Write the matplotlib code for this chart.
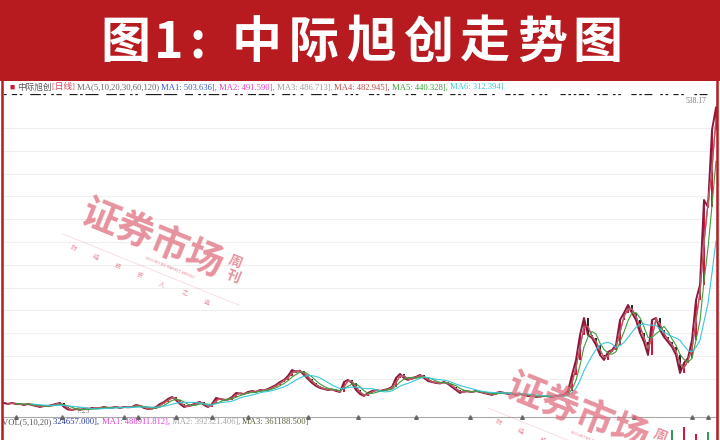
import numpy as np
import matplotlib
matplotlib.use('Agg')
import matplotlib.pyplot as plt
from matplotlib.patches import Rectangle
from matplotlib.lines import Line2D

W, H = 720, 440
RED = '#b71a1f'
CJK = ['Noto Sans CJK SC', 'DejaVu Sans']
SMALL = ['Liberation Serif', 'Noto Sans CJK SC', 'DejaVu Sans']

# closing price, one sample for roughly every 16 trading days
close = [19.2, 17.5, 19.2, 17.5, 17.5, 15.8, 17.5, 15.8, 14.1, 12.4,
         14.1, 14.1, 15.8, 17.5, 19.2, 12.4, 8.1, 7.3, 9.0, 7.6,
         9.0, 8.6, 10.7, 10.2, 10.7, 12.4, 10.7, 11.3, 12.4, 10.7,
         12.4, 11.8, 12.4, 15.8, 14.1, 10.7, 9.0, 9.6, 12.4, 17.5,
         20.9, 26.0, 29.4, 24.3, 17.5, 12.4, 14.1, 15.8, 19.2, 20.9,
         15.8, 12.4, 17.5, 27.7, 26.0, 24.3, 25.1, 29.4, 36.2, 35.4,
         34.5, 37.9, 39.6, 37.9, 41.3, 40.5, 43.0, 46.4, 49.8, 54.9,
         58.3, 65.1, 75.3, 71.9, 74.1, 66.8, 60.0, 53.2, 48.1, 44.7,
         43.0, 41.3, 42.2, 39.6, 37.9, 54.9, 58.3, 53.2, 41.3, 34.5,
         31.1, 36.2, 39.6, 41.3, 39.6, 41.3, 43.0, 46.4, 61.7, 68.5,
         61.7, 58.3, 61.7, 63.4, 66.8, 61.7, 56.6, 54.9, 53.2, 52.4,
         54.9, 51.5, 46.4, 41.3, 36.2, 39.6, 38.8, 37.9, 39.6, 37.9,
         36.2, 34.5, 32.8, 36.2, 37.9, 36.2, 34.5, 35.2, 32.8, 34.5,
         32.8, 31.1, 31.8, 29.4, 30.2, 31.1, 30.5, 29.4, 31.1, 31.6,
         32.8, 39.6, 66.8, 92.3, 134.8, 163.7, 134.8, 129.7, 117.8, 100.8,
         92.3, 105.9, 109.3, 117.8, 160.3, 172.2, 185.8, 172.2, 160.3, 138.2,
         122.9, 100.8, 160.3, 163.7, 143.3, 131.4, 122.9, 114.4, 100.8, 70.2,
         87.2, 95.7, 126.3, 194.3, 219.8, 364.3, 352.4, 483.3, 521.4]
max_high = 538.17
min_low = 7.25

# moving averages: days and last values shown in the legend
ma_days = [5, 10, 20, 30, 60, 120]
ma_last = ['503.636', '491.590', '486.713', '482.945', '440.328', '312.394']
ma_colors = ['#3a5bc7', '#e03fcf', '#9c9c9c', '#c0504d', '#3c9e3c', '#38c8d8']
days_per_sample = 15

# volume panel (only the tallest recent bars show above the bottom edge)
vol_start = 163
vol_tail = [560e3, 520e3, 480e3, 610e3, 1130e3, 700e3, 820e3, 1180e3,
            760e3, 900e3, 1070e3, 880e3, 940e3, 1100e3, 890e3, 324657]
vol_legend = [('VOL(5,10,20) ', '#555555'), ('324657.000], ', '#2a3a9a'),
              ('MA1: 488911.812], ', '#e040d0'), ('MA2: 392321.406], ', '#a8a8a8'),
              ('MA3: 361188.500]', '#606040')]

# sample index of the time-axis markers
time_ticks = [3, 14.5, 30, 33.5, 43, 52, 61, 76, 88.5, 103, 116.5, 129.5, 157.5, 172, 176]

title = '图1：中际旭创走势图'
stock = '中际旭创'


def fx(x):
    return x / W


def fy(y):
    return 1 - y / H


def price_at(ypx):
    return min_low + (410 - ypx) * 1.70


fig = plt.figure(figsize=(W / 100, H / 100), dpi=100)
fig.patch.set_facecolor('white')

# header band and frame
fig.add_artist(Rectangle((0, fy(81)), 1, 81 / H, transform=fig.transFigure,
                         facecolor=RED, edgecolor='none', zorder=0))
for xb in (1.5, 716.5):
    fig.add_artist(Line2D([fx(xb), fx(xb)], [0, fy(81)], transform=fig.transFigure,
                          color=RED, lw=1.8, zorder=5))
# title, one glyph at a time to get the wide letter spacing of the original
title_x = [125, 169, 198, 257, 314, 371, 428, 485, 542, 597]
for ch, xc in zip(title, title_x):
    fig.text(fx(xc), fy(43), ':' if ch == '：' else ch, fontsize=36, weight='heavy',
             color='white', family=CJK, ha='center', va='center')

# price panel
ax = fig.add_axes([fx(3), fy(417), fx(717) - fx(3), (417 - 82) / H])
ax.set_xlim(-0.25, 178.25)
ax.set_ylim(price_at(417), price_at(82))
for s in ['top', 'left', 'right']:
    ax.spines[s].set_visible(False)
ax.spines['bottom'].set_color('#a8a8a8')
ax.spines['bottom'].set_linewidth(0.8)
ax.set_yticks(np.linspace(price_at(378.7), price_at(128), 12))
ax.set_xticks([])
ax.tick_params(left=False, labelleft=False)
ax.grid(axis='y', color='#efefef', lw=0.8)
ax.set_axisbelow(True)

c = np.array(close)
idx = np.arange(len(c))
opn = np.r_[c[0], c[:-1]]
up = c >= opn
flat = np.abs(c - opn) < 1.2
ax.bar(idx, np.where(flat, 1.2, c - opn), bottom=np.where(flat, c - 0.6, opn), width=0.7,
       color=np.where(up, '#d3173c', '#2a2422'), zorder=3)
ax.plot(idx, c, color='#8a1a3a', lw=1.4, zorder=3)

for d, col in zip(ma_days[1:], ma_colors[1:]):
    w = max(2, int(round(d / days_per_sample)))
    m = np.convolve(c, np.ones(w) / w, mode='valid')
    ax.plot(idx[w - 1:], m, color=col, lw=0.8, zorder=4)

ax.plot(time_ticks, [ax.get_ylim()[0]] * len(time_ticks), ls='none', marker='^',
        ms=2.6, color='#666666', clip_on=False, zorder=5)

imax = int(np.argmax(c))
imin = int(np.argmin(c))
ax.annotate(f'{max_high:.2f}', xy=(imax, c[imax]), xytext=(-7, 5), textcoords='offset points',
            ha='right', va='center', fontsize=5.5, color='#7a7a7a', family=SMALL)
ax.annotate(f'{min_low:.2f}', xy=(imin, c[imin]), xytext=(3, -1), textcoords='offset points',
            ha='left', va='center', fontsize=5.5, color='#7a7a7a', family=SMALL)

# volume panel (extends below the picture edge)
vax = fig.add_axes([fx(3), fy(500), fx(717) - fx(3), (500 - 426) / H])
vax.set_xlim(ax.get_xlim())
vax.set_ylim(0, 1.2e6)
vax.axis('off')
vidx = idx[vol_start:]
vax.bar(vidx, vol_tail, width=0.3, color=np.where(up[vol_start:], '#d3173c', '#2f9a55'))


def chain(pieces, x, y, fs=6.2):
    t = fig.text(fx(x), fy(y), pieces[0][0], color=pieces[0][1], fontsize=fs,
                 family=SMALL, ha='left', va='center')
    for s, col in pieces[1:]:
        t = ax.annotate(s, xy=(1, 0), xycoords=t, ha='left', va='bottom', color=col,
                        fontsize=fs, family=SMALL, annotation_clip=False)


legend = [('■ ', '#d3173c'), (stock, '#555555'), ('[日线] ', '#e0405a'),
          ('MA(' + ','.join(str(d) for d in ma_days) + ') ', '#666666')]
for k, (v, col) in enumerate(zip(ma_last, ma_colors)):
    legend.append((f'MA{k + 1}: {v}]' + (', ' if k < 5 else ''), col))
chain(legend, 10, 87.5)
chain(vol_legend, 2, 422)

# row of event markers under the legend
marks = ('▬  ▬▬ ▬   ▬▬▬▬ ▬  ▬ ▬▬   ▬▬▬ ▬ ▬▬▬▬▬   ▬▬▬▬ ▬▬  ▬ ▬   ▬▬▬▬▬▬ ▬▬▬▬▬   ▬▬▬  ▬ ▬ ▬▬▬▬ '
         '▬▬   ▬ ▬  ▬▬▬ ▬▬▬▬ ▬   ▬▬▬ ▬  ▬   ▬▬▬▬ ▬  ▬▬   ▬ ▬ ▬    ▬▬ ▬  ▬▬ ▬    ▬ ▬▬   ▬ ▬  ▬▬   '
         '▬▬ ▬ ▬   ▬ ▬▬▬  ▬    ▬▬ ▬ ▬▬   ▬  ▬ ▬     ▬▬ ▬ ▬ ▬▬ ▬   ▬ ▬▬  ▬ ▬    ▬▬ ▬ ▬▬▬   '
         '▬ ▬  ▬▬ ▬    ▬ ▬▬▬')
fig.text(fx(4), fy(95), marks, fontsize=3.2, family=['DejaVu Sans Mono'], color='#1a1a1a',
         ha='left', va='center')


def watermark(x0, y0):
    ang = -22
    dx, dy = np.cos(np.radians(22)), np.sin(np.radians(22))
    col = '#e06e7e'
    fig.text(fx(x0), fy(y0), '证券市场', fontsize=27, family=CJK, color=col, alpha=0.75,
             weight='bold', rotation=ang, rotation_mode='anchor', ha='left', va='center',
             zorder=10)
    for k, ch in enumerate('周刊'):
        fig.text(fx(x0 + 152 - 2 * k), fy(y0 + 52 + 15 * k), ch, fontsize=10, family=CJK,
                 color=col, alpha=0.75, weight='bold', rotation=ang, rotation_mode='anchor',
                 ha='center', va='center', zorder=10)
    for k, ch in enumerate('财经投资人之选'):
        fig.text(fx(x0 - 10 + 24 * k * dx), fy(y0 + 38 + 24 * k * dy), ch, fontsize=4.5,
                 family=CJK, color=col, alpha=0.8, rotation=ang, rotation_mode='anchor',
                 ha='center', va='center', zorder=10)
    fig.text(fx(x0 + 62), fy(y0 + 48), 'SECURITIES MARKET WEEKLY', fontsize=2.6, color=col,
             alpha=0.8, rotation=ang, rotation_mode='anchor', ha='left', va='center', zorder=10)
    fig.add_artist(Line2D([fx(x0 - 20), fx(x0 - 20 + 190 * dx)],
                          [fy(y0 + 24), fy(y0 + 24 + 190 * dy)], transform=fig.transFigure,
                          color=col, alpha=0.3, lw=0.5, zorder=10))


watermark(83, 210)
watermark(508, 384)

fig.savefig('out.png', dpi=100, facecolor='white')
